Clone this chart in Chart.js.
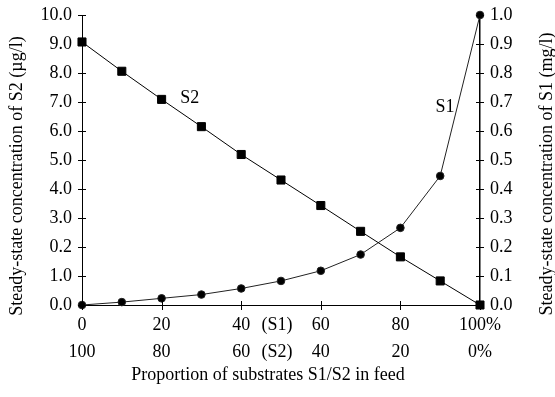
<!DOCTYPE html>
<html>
<head>
<meta charset="utf-8">
<script src="https://cdn.jsdelivr.net/npm/chart.js@4"></script>
<style>
  body { margin: 0; background: #fff; }
</style>
</head>
<body>
<canvas id="chart" width="555" height="397"></canvas>
<script>
// Proportion of S1 in feed (%)
const proportionS1 = [0, 10, 20, 30, 40, 50, 60, 70, 80, 90, 100];
// Steady-state S2 (ug/l), left axis
const s2Values = [9.07, 8.06, 7.09, 6.15, 5.19, 4.31, 3.43, 2.54, 1.66, 0.83, 0];
// Steady-state S1 (mg/l), right axis
const s1Values = [0, 0.01, 0.023, 0.036, 0.057, 0.083, 0.118, 0.174, 0.266, 0.445, 1.0];

// Tick labels (the left axis really prints "0.2" where 2.0 belongs)
const leftTickLabels = ["0.0", "1.0", "0.2", "3.0", "4.0", "5.0", "6.0", "7.0", "8.0", "9.0", "10.0"];
const rightTickLabels = ["0.0", "0.1", "0.2", "0.3", "0.4", "0.5", "0.6", "0.7", "0.8", "0.9", "1.0"];
const xTickValues = [0, 20, 40, 49, 60, 80, 100];
const xTickTop = ["0", "20", "40", "(S1)", "60", "80", "100%"];
const xTickBottom = ["100", "80", "60", "(S2)", "40", "20", "0%"];
const xMarkValues = [0, 20, 40, 60, 80, 100];

const serif = "'Liberation Serif', 'Times New Roman', serif";

// Tick marks that cross the axes, series names and axis titles
const decorations = {
    id: "decorations",
    afterDraw(chart) {
        const ctx = chart.ctx;
        const x = chart.scales.x;
        const yL = chart.scales.y;
        const yR = chart.scales.y1;
        ctx.save();
        ctx.strokeStyle = "#000";
        ctx.lineWidth = 1;
        ctx.beginPath();
        for (let i = 0; i <= 10; i++) {
            const py = Math.round(yL.getPixelForValue(i)) + 0.5;
            ctx.moveTo(x.left - 4, py);
            ctx.lineTo(x.left + 4, py);
            const pr = Math.round(yR.getPixelForValue(i / 10)) + 0.5;
            ctx.moveTo(x.right - 4, pr);
            ctx.lineTo(x.right + 4, pr);
        }
        xMarkValues.forEach(v => {
            const px = Math.round(x.getPixelForValue(v)) + 0.5;
            ctx.moveTo(px, yL.bottom - 4);
            ctx.lineTo(px, yL.bottom + 5);
        });
        ctx.stroke();

        ctx.fillStyle = "#000";
        ctx.font = "18px " + serif;
        ctx.textAlign = "center";
        ctx.textBaseline = "middle";
        ctx.fillText("S2", x.getPixelForValue(27.1), yL.getPixelForValue(7.14));
        ctx.fillText("S1", x.getPixelForValue(91.2), yR.getPixelForValue(0.683));

        ctx.fillText("Proportion of substrates S1/S2 in feed", 268, 375);

        ctx.translate(17, 176);
        ctx.rotate(-Math.PI / 2);
        ctx.fillText("Steady-state concentration of S2 (\u00b5g/l)", 0, 0);
        ctx.rotate(Math.PI / 2);
        ctx.translate(547 - 17, 174 - 176);
        ctx.rotate(-Math.PI / 2);
        ctx.fillText("Steady-state concentration of S1 (mg/l)", 0, 0);
        ctx.restore();
    }
};

new Chart(document.getElementById("chart"), {
    type: "line",
    data: {
        datasets: [{
            label: "S2",
            data: proportionS1.map((p, i) => ({ x: p, y: s2Values[i] })),
            yAxisID: "y",
            borderColor: "#000",
            backgroundColor: "#000",
            borderWidth: 1,
            pointStyle: "rect",
            pointRadius: 5.7,
            tension: 0
        }, {
            label: "S1",
            data: proportionS1.map((p, i) => ({ x: p, y: s1Values[i] })),
            yAxisID: "y1",
            borderColor: "#222",
            backgroundColor: "#000",
            borderWidth: 1,
            pointStyle: "circle",
            pointRadius: 3.8,
            tension: 0
        }]
    },
    options: {
        responsive: false,
        animation: false,
        clip: false,
        layout: { padding: { top: 15, left: 0, right: 0, bottom: 0 } },
        plugins: {
            legend: { display: false },
            tooltip: { enabled: false }
        },
        scales: {
            x: {
                type: "linear",
                min: 0,
                max: 100,
                afterFit: s => { s.height = 92; s.paddingLeft = 0; s.paddingRight = 0; },
                afterBuildTicks: s => { s.ticks = xTickValues.map(v => ({ value: v })); },
                grid: { display: false, drawTicks: false },
                border: { display: true, color: "#000", width: 1 },
                ticks: {
                    autoSkip: false,
                    maxRotation: 0,
                    padding: 7,
                    color: "#000",
                    font: { family: serif, size: 18, lineHeight: 1.5 },
                    callback: v => {
                        const i = xTickValues.indexOf(v);
                        return [xTickTop[i], xTickBottom[i]];
                    }
                }
            },
            y: {
                position: "left",
                min: 0,
                max: 10,
                afterFit: s => { s.width = 82; s.paddingTop = 0; s.paddingBottom = 0; },
                grid: { display: false, drawTicks: false },
                border: { display: true, color: "#000", width: 1 },
                ticks: {
                    stepSize: 1,
                    padding: 10,
                    color: "#000",
                    font: { family: serif, size: 18 },
                    callback: (v, i) => leftTickLabels[i]
                }
            },
            y1: {
                position: "right",
                min: 0,
                max: 1,
                afterFit: s => { s.width = 75; s.paddingTop = 0; s.paddingBottom = 0; },
                grid: { display: false, drawTicks: false },
                border: { display: true, color: "#000", width: 1.5 },
                ticks: {
                    stepSize: 0.1,
                    padding: 10,
                    color: "#000",
                    font: { family: serif, size: 18 },
                    callback: (v, i) => rightTickLabels[i]
                }
            }
        }
    },
    plugins: [decorations]
});
</script>
</body>
</html>
